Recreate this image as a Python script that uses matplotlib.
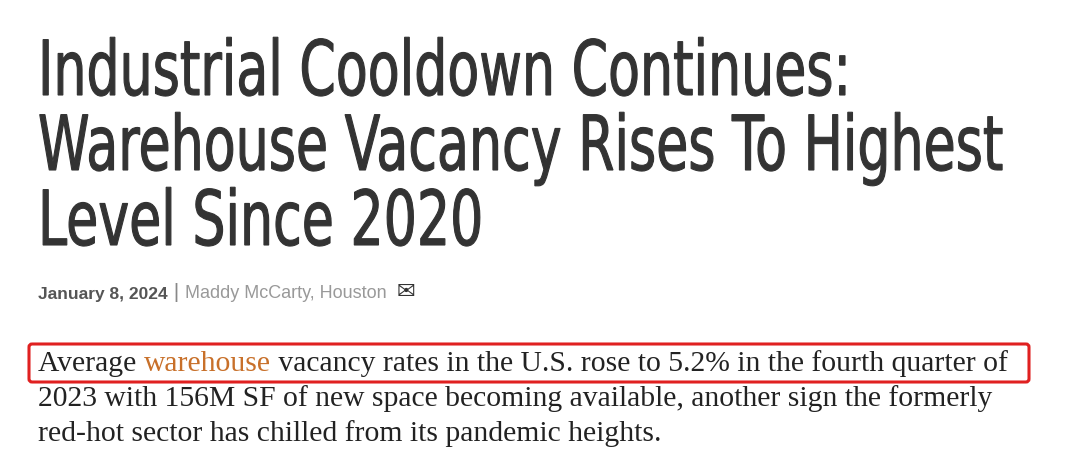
import matplotlib.pyplot as plt
from matplotlib.patches import FancyBboxPatch, PathPatch
from matplotlib.textpath import TextPath
from matplotlib.font_manager import FontProperties
from matplotlib.transforms import Affine2D

title_lines = ["Industrial Cooldown Continues:",
               "Warehouse Vacancy Rises To Highest",
               "Level Since 2020"]
byline_date = "January 8, 2024"
byline_author = "Maddy McCarty, Houston"
para_first = ["Average ", "warehouse", " vacancy rates in the U.S. rose to 5.2% in the fourth quarter of"]
para_rest = ["2023 with 156M SF of new space becoming available, another sign the formerly",
             "red-hot sector has chilled from its pandemic heights."]

fig = plt.figure(figsize=(10.8, 4.7), dpi=100)
ax = fig.add_axes([0, 0, 1, 1])
ax.set_xlim(0, 1080)
ax.set_ylim(470, 0)
ax.axis("off")

# headline: condensed by scaling the glyph outlines horizontally
fp = FontProperties(family="DejaVu Sans", weight="normal")
title_y = [95, 170, 245]
first = TextPath((0, 0), title_lines[0], size=76, prop=fp)
sx = 807 / first.get_extents().x1
for txt, y in zip(title_lines, title_y):
    p = TextPath((0, 0), txt, size=76, prop=fp)
    tr = Affine2D().scale(sx, -1).translate(38, y)
    ax.add_patch(PathPatch(tr.transform_path(p), facecolor="#333333",
                           edgecolor="#333333", linewidth=0.8))

# byline
t = ax.text(38, 299, byline_date, fontsize=12.5, fontweight="bold", color="#555555",
            family="Liberation Sans", va="baseline")
t = ax.annotate(" | ", xy=(1, 0), xycoords=t, fontsize=15, color="#888888",
                va="bottom", family="Liberation Sans")
t = ax.annotate(byline_author + "  ", xy=(1, 0), xycoords=t, fontsize=13, color="#999999",
                va="bottom", family="Liberation Sans")
ax.annotate("\u2709", xy=(1, 0), xycoords=t, fontsize=16, color="#333333",
            va="bottom", family="DejaVu Sans")

# paragraph
serif = ["Liberation Serif", "DejaVu Serif"]
colors = ["#222222", "#c8702a", "#222222"]
fs = 21.3
t = None
for seg, c in zip(para_first, colors):
    if t is None:
        t = ax.text(38, 371, seg, fontsize=fs, color=c, family=serif, va="baseline")
    else:
        t = ax.annotate(seg, xy=(1, 0), xycoords=t, fontsize=fs, color=c,
                        family=serif, va="bottom")
for j, line in enumerate(para_rest):
    ax.text(38, 406 + 35 * j, line, fontsize=fs, color="#222222", family=serif, va="baseline")

box = FancyBboxPatch((29, 344), 1000, 38, boxstyle="round,pad=0,rounding_size=3",
                     fill=False, edgecolor="#e02020", linewidth=2.2)
ax.add_patch(box)

fig.savefig("out.png", dpi=100)
